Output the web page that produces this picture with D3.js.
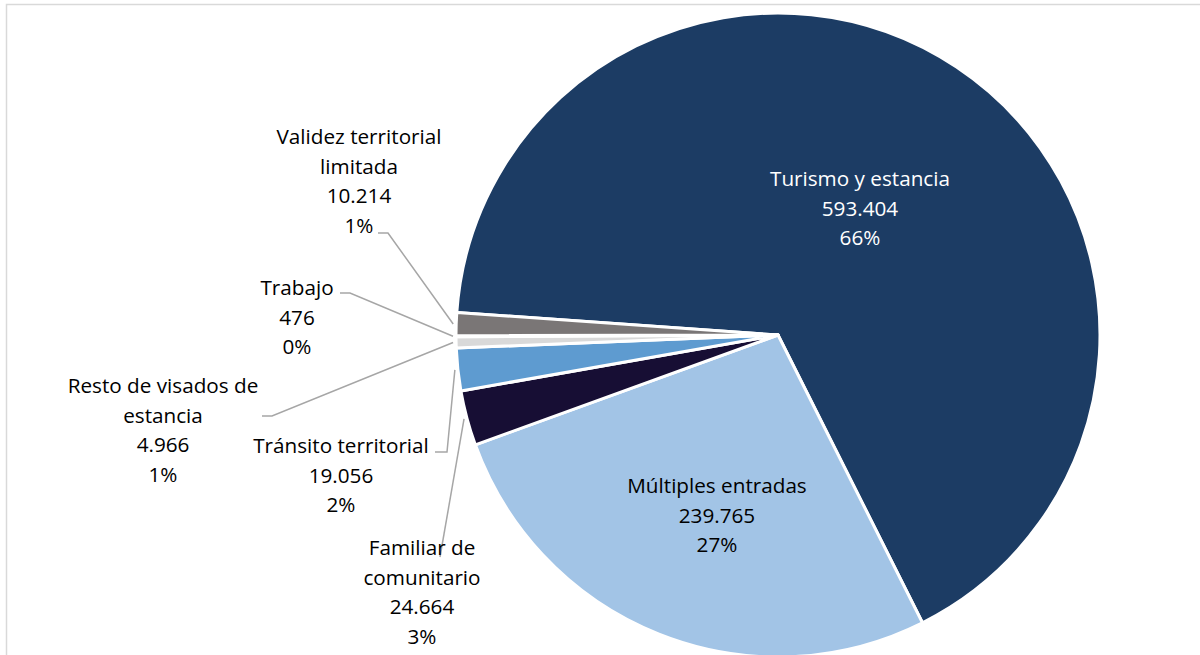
<!DOCTYPE html>
<html>
<head>
<meta charset="utf-8">
<script src="https://cdn.jsdelivr.net/npm/d3@7"></script>
<style>
  html, body { margin: 0; padding: 0; background: #ffffff; }
  svg { display: block; }
  text { font-family: "Open Sans", Lato, sans-serif; }
</style>
</head>
<body>
<svg id="chart" width="1200" height="655"></svg>
<script>
// ---- data ----
const categories = [
  "Turismo y estancia",
  "Múltiples entradas",
  "Familiar de comunitario",
  "Tránsito territorial",
  "Resto de visados de estancia",
  "Trabajo",
  "Validez territorial limitada"
];
const values = [593404, 239765, 24664, 19056, 4966, 476, 10214];
const labelLines = [
  ["Turismo y estancia"],
  ["Múltiples entradas"],
  ["Familiar de", "comunitario"],
  ["Tránsito territorial"],
  ["Resto de visados de", "estancia"],
  ["Trabajo"],
  ["Validez territorial", "limitada"]
];
const colors = ["#1c3c64", "#a2c4e6", "#170e34", "#5e9bd0", "#d9d9d9", "#ffffff", "#7a7676"];

// ---- layout (not data) ----
const W = 1200, H = 655;
const cx = 778, cy = 335, R = 322;
const startDeg = -86;
const lineH = 29.7;
const fontSize = 20.7;
// label anchor: center x, first baseline y; leader: start point and elbow
const labelLayout = [
  { x: 860, y: 186, inside: true, fill: "#ffffff" },
  { x: 717, y: 493, inside: true, fill: "#000000" },
  { x: 422, y: 555, leader: [[440, 557]] },
  { x: 341, y: 453, leader: [[435, 452], [447, 452]] },
  { x: 163, y: 393, leader: [[262, 416], [272, 416]] },
  { x: 297, y: 295, leader: [[340, 293], [350, 293]] },
  { x: 359, y: 144, leader: [[378, 233], [388, 233]] }
];

const svg = d3.select("#chart");

// chart border
svg.append("rect")
  .attr("x", 6.5).attr("y", 4.5)
  .attr("width", W + 20).attr("height", H + 20)
  .attr("fill", "none")
  .attr("stroke", "#d9d9d9")
  .attr("stroke-width", 1.5);

const total = d3.sum(values);
const fmt = d3.formatLocale({ decimal: ",", thousands: ".", grouping: [3], currency: ["", "€"] }).format(",d");

const data = categories.map((c, i) => ({ name: c, value: values[i], i }));
const pie = d3.pie().value(d => d.value).sort(null)
  .startAngle(startDeg * Math.PI / 180)
  .endAngle(startDeg * Math.PI / 180 + 2 * Math.PI);
const arcs = pie(data);
const arc = d3.arc().innerRadius(0).outerRadius(R);

const g = svg.append("g").attr("transform", `translate(${cx},${cy})`);
g.selectAll("path.slice")
  .data(arcs)
  .join("path")
  .attr("class", "slice")
  .attr("d", arc)
  .attr("fill", d => colors[d.data.i])
  .attr("stroke", "#ffffff")
  .attr("stroke-width", 3)
  .attr("stroke-linejoin", "round");

// leader lines
arcs.forEach(a => {
  const L = labelLayout[a.data.i];
  if (!L.leader) return;
  const mid = (a.startAngle + a.endAngle) / 2;
  const end = [cx + (R + 3) * Math.sin(mid), cy - (R + 3) * Math.cos(mid)];
  const pts = L.leader.concat([end]);
  svg.append("path")
    .attr("d", d3.line()(pts))
    .attr("fill", "none")
    .attr("stroke", "#a6a6a6")
    .attr("stroke-width", 1.5);
});

// labels
arcs.forEach(a => {
  const i = a.data.i;
  const L = labelLayout[i];
  const lines = labelLines[i].concat([fmt(values[i]), Math.round(values[i] / total * 100) + "%"]);
  const t = svg.append("text")
    .attr("text-anchor", "middle")
    .attr("font-size", fontSize)
    .attr("fill", L.fill || "#000000");
  lines.forEach((s, k) => {
    t.append("tspan").attr("x", L.x).attr("y", L.y + k * lineH).text(s);
  });
});
</script>
</body>
</html>
